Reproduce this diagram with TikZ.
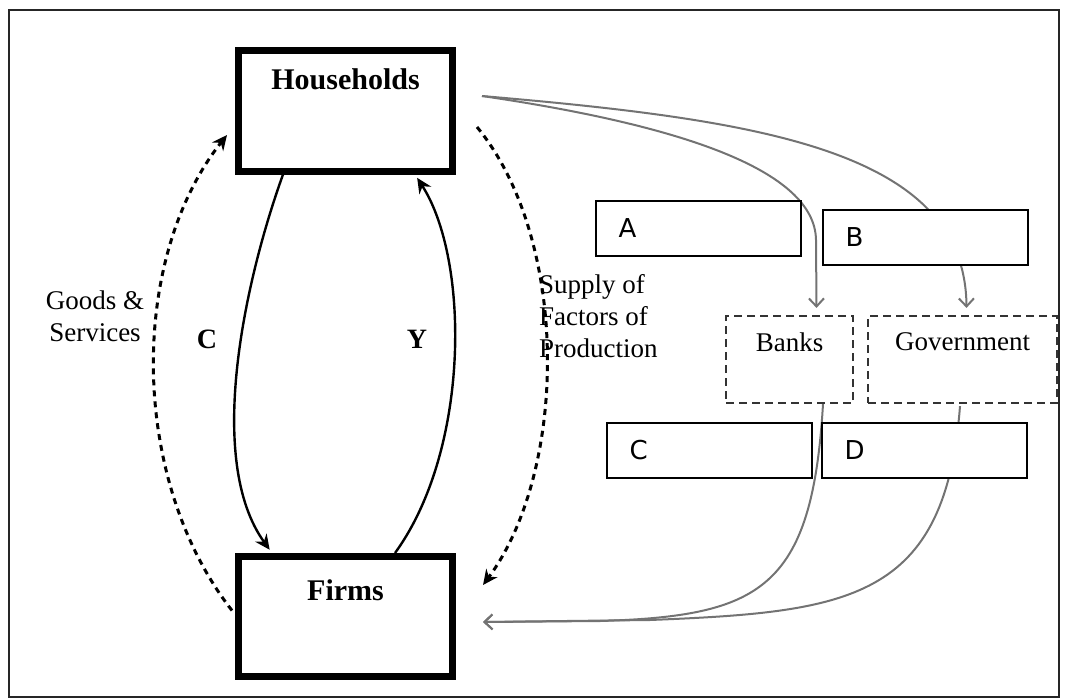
\documentclass[tikz,border=0pt]{standalone}
\usepackage{fontspec}
\setmainfont{Liberation Serif}
\newfontfamily\letterfont{DejaVu Sans}
\usetikzlibrary{arrows.meta, positioning, calc}

\begin{document}
\begin{tikzpicture}[x=1pt, y=-1pt, >={Stealth[length=15pt,width=14pt,inset=5pt]},
  sector/.style={rectangle, draw, line width=7pt, minimum width=214pt, minimum height=120pt},
  sectortext/.style={anchor=base, font=\fontsize{30}{36}\selectfont\bfseries},
  plain text/.style={font=\fontsize{27}{32}\selectfont},
  flow/.style={->, line width=2.4pt},
  dflow/.style={->, line width=3pt, dash pattern=on 6pt off 5pt},
  money/.style={line width=2pt, draw=black!55, -{Straight Barb[length=8pt,width=15pt]}},
  dashbox/.style={rectangle, draw=black!80, line width=2.2pt, dash pattern=on 8pt off 5pt, minimum height=87pt},
  blank/.style={rectangle, draw, line width=2pt, fill=white, minimum width=205pt, minimum height=55pt},
  letter/.style={font=\fontsize{26}{30}\selectfont\letterfont}]
  \useasboundingbox (0,0) rectangle (1067,698);
  \draw[line width=2pt, black!85] (9,10) rectangle (1059,697);

  % circular flow
  \node[sector] (hh) at (345.5,111) {};
  \node[sector] (firms) at (345.5,616.5) {};
  \node[sectortext] at ($(hh.north)+(0,42.5)$) {Households};
  \node[sectortext] at ($(firms.north)+(0,47.5)$) {Firms};

  \draw[flow, shorten >=4pt] ($(hh.south west)+(48,0)$) .. controls (245,280) and (205,460) .. ($(firms.north west)+(37,0)$);
  \draw[flow, shorten >=4pt] ($(firms.north west)+(160,0)$) .. controls (470,450) and (470,260) .. ($(hh.south west)+(180,0)$);
  \draw[dflow] ($(firms.west)+(-3,-6)$) .. controls (130,480) and (128,260) .. ($(hh.west)+(-8,24)$);
  \draw[dflow] ($(hh.east)+(21,16)$) .. controls (570,240) and (568,470) .. ($(firms.east)+(27,-31.5)$);

  \node[font=\fontsize{28}{32}\selectfont\bfseries, anchor=base] at (207,348) {C};
  \node[font=\fontsize{28}{32}\selectfont\bfseries, anchor=base] at (417,348) {Y};
  \node[plain text, align=center, anchor=north, inner sep=0pt] (goods) at (95,291) {Goods \&\\Services};
  \node[plain text, align=left, anchor=north west, inner sep=0pt] (supply) at (539,274) {Supply of\\Factors of\\Production};

  % banks and government
  \node[dashbox, minimum width=127pt] (banks) at (789.5,359.5) {};
  \node[dashbox, minimum width=189pt] (gov) at (962.5,359.5) {};
  \node[plain text, anchor=base] at ($(banks.north)+(0,37)$) {Banks};
  \node[plain text, anchor=base] at ($(gov.north)+(0,36)$) {Government};

  \coordinate (outflow) at ($(hh.east)+(26,-15)$);
  \coordinate (inflow) at ($(firms.east)+(27,5.5)$);
  \draw[money] (outflow) .. controls (680,125) and (815,170) .. (816,240) -- ($(banks.north)+(27,-7)$);
  \draw[money] (outflow) .. controls (760,120) and (965,150) .. ($(gov.north)+(4,-7)$);
  \draw[money] ($(banks.south)+(33.5,0)$) .. controls (812,590) and (760,616) .. (600,621) -- (inflow);
  \draw[money] ($(gov.south)+(-2.5,2)$) .. controls (945,600) and (850,612) .. (650,620) -- (inflow);

  % answer boxes
  \node[blank] (boxA) at (698.5,228.5) {};
  \node[blank] (boxB) at (925.5,237) {};
  \node[blank] (boxC) at (709.5,450.5) {};
  \node[blank] (boxD) at (924.5,450.5) {};
  \node[letter, right=20pt of boxA.west] {A};
  \node[letter, right=20pt of boxB.west] {B};
  \node[letter, right=20pt of boxC.west] {C};
  \node[letter, right=20pt of boxD.west] {D};
\end{tikzpicture}
\end{document}
